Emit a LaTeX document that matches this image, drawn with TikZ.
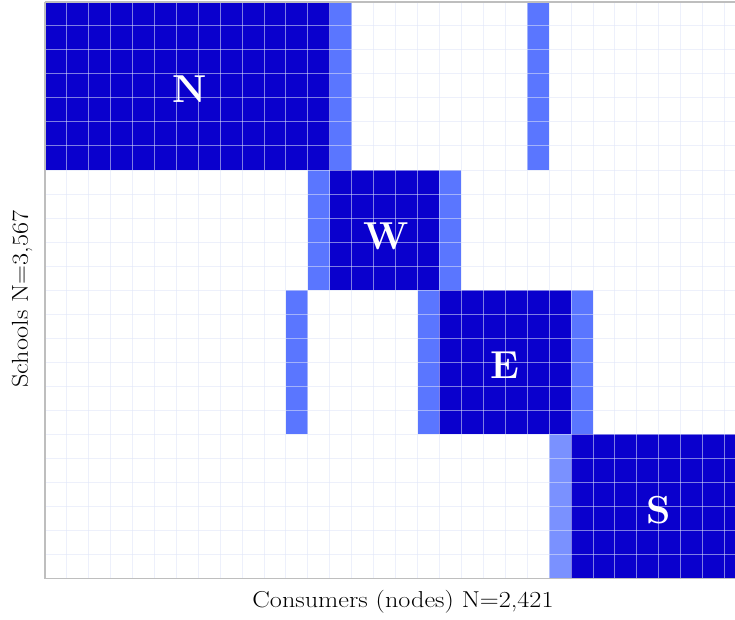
\documentclass[tikz,border=0pt]{standalone}
\usepackage{fontspec}
\begin{document}
\definecolor{darkb}{RGB}{10,0,205}
\definecolor{lightb}{RGB}{90,118,255}
\definecolor{paleb}{RGB}{122,145,255}
\definecolor{gridc}{RGB}{222,228,248}
\definecolor{framec}{RGB}{190,190,190}
\tikzset{
  blockdark/.style={fill=darkb,draw=none},
  blocklight/.style={fill=lightb,draw=none},
  blockpale/.style={fill=paleb,draw=none},
  gridline/.style={draw=gridc,line width=0.9pt,opacity=0.55},
  framel/.style={draw=framec,line width=1.6pt},
  blocklabel/.style={text=white,font=\fontsize{39}{44}\selectfont\bfseries,inner sep=0pt},
  axislabel/.style={text=black,font=\fontsize{23}{28}\selectfont,inner sep=0pt}
}
\begin{tikzpicture}
\useasboundingbox (0,0) rectangle (735pt,-619pt);
\begin{scope}[shift={(44.7pt,-1.7pt)},x=21.93pt,y=-24.04pt]
  \begin{scope}
  \clip (0,0) rectangle (31.48,24);
  % N block
  \fill[blockdark] (0,0) rectangle (13,7);
  \fill[blocklight] (13,0) rectangle (14,7);
  \fill[blocklight] (22,0) rectangle (23,7);
  % W block
  \fill[blockdark] (13,7) rectangle (18,12);
  \fill[blocklight] (12,7) rectangle (13,12);
  \fill[blocklight] (18,7) rectangle (19,12);
  % E block
  \fill[blockdark] (18,12) rectangle (24,18);
  \fill[blocklight] (17,12) rectangle (18,18);
  \fill[blocklight] (24,12) rectangle (25,18);
  \fill[blocklight] (11,12) rectangle (12,18);
  % S block
  \fill[blockdark] (24,18) rectangle (31.48,24);
  \fill[blockpale] (23,18) rectangle (24,24);
  % grid
  \foreach \i in {1,...,31} \draw[gridline] (\i,0) -- (\i,24);
  \foreach \j in {1,...,23} \draw[gridline] (0,\j) -- (31.48,\j);
  \end{scope}
  % frame
  \draw[framel] (0,0) -- (31.48,0);
  \draw[framel] (0,0) -- (0,24);
  \draw[framel] (0,24) -- (31.48,24);
  % labels
  \node[blocklabel] (lN) at (6.63,3.63) {N};
  \node[blocklabel] (lW) at (15.56,9.75) {W};
  \node[blocklabel] (lE) at (20.99,15.13) {E};
  \node[blocklabel] (lS) at (28.01,21.14) {S};
\end{scope}
\node[axislabel] (xlab) at (403pt,-602pt) {\scalebox{1.14}[1]{Consumers (nodes) N=2,421}};
\node[axislabel,rotate=90] (ylab) at (22pt,-299pt) {\scalebox{1.14}[1]{Schools N=3,567}};
\end{tikzpicture}
\end{document}
